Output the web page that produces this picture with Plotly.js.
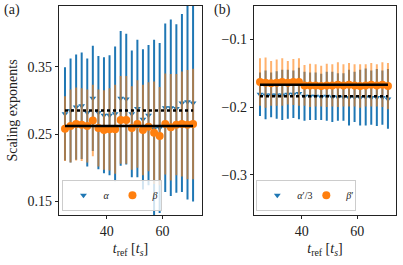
<!DOCTYPE html>
<html><head><meta charset="utf-8">
<script src="https://cdn.plot.ly/plotly-3.0.1.min.js"></script>
<style>html,body{margin:0;padding:0;background:#fff}#c{width:403px;height:265px}</style>
</head><body><div id="c"></div>
<script>
// t_ref values (shared by both panels)
const tRef = [25,27,29,31,33,35,37,39,41,43,45,47,49,51,53,55,57,59,61,63,65,67,69,71];

// Panel (a): alpha and beta
const alphaA = [0.280,0.285,0.290,0.292,0.282,0.303,0.282,0.278,0.278,0.280,0.303,0.302,0.280,0.288,0.272,0.278,0.258,0.259,0.289,0.289,0.288,0.296,0.298,0.296];
const alphaErrA = [0.069,0.077,0.078,0.079,0.080,0.078,0.084,0.086,0.089,0.100,0.100,0.097,0.094,0.102,0.104,0.104,0.132,0.126,0.125,0.131,0.125,0.132,0.145,0.146];
const betaA = [0.258,0.262,0.265,0.264,0.262,0.270,0.259,0.256,0.257,0.257,0.271,0.271,0.259,0.265,0.256,0.261,0.252,0.247,0.265,0.260,0.264,0.265,0.264,0.265];
const betaErrA = [0.048,0.054,0.054,0.054,0.054,0.053,0.057,0.059,0.061,0.066,0.065,0.065,0.062,0.065,0.067,0.066,0.076,0.073,0.075,0.079,0.075,0.078,0.081,0.082];
const meanAlphaA = 0.285;
const meanBetaA = 0.262;

// Panel (b): alpha'/3 and beta'
const alphaB = [-0.181,-0.182,-0.182,-0.182,-0.182,-0.181,-0.181,-0.180,-0.184,-0.184,-0.184,-0.185,-0.184,-0.185,-0.185,-0.185,-0.186,-0.185,-0.186,-0.185,-0.186,-0.186,-0.186,-0.188];
const alphaErrB = [0.032,0.036,0.033,0.035,0.037,0.036,0.035,0.038,0.036,0.035,0.035,0.034,0.036,0.037,0.035,0.035,0.041,0.037,0.041,0.042,0.040,0.042,0.040,0.044];
const betaB = [-0.163,-0.164,-0.165,-0.164,-0.163,-0.164,-0.163,-0.163,-0.168,-0.168,-0.168,-0.169,-0.168,-0.168,-0.167,-0.168,-0.167,-0.168,-0.169,-0.168,-0.167,-0.168,-0.167,-0.169];
const betaErrB = [0.035,0.037,0.033,0.034,0.035,0.032,0.034,0.035,0.030,0.032,0.031,0.030,0.032,0.031,0.033,0.031,0.032,0.031,0.032,0.031,0.032,0.031,0.033,0.034];
const meanAlphaB = -0.184;
const meanBetaB = -0.167;

const BLUE = '#1f77b4', ORANGE = '#ff7f0e';
const FONT = 'Liberation Serif, Times New Roman, serif';
const xEnds = [tRef[0], tRef[tRef.length-1]];

function series(y, err, name, color, errColor, symbol, size, xa, ya, leg) {
  return {x: tRef, y: y, type: 'scatter', mode: 'markers', name: name,
    xaxis: xa, yaxis: ya, legend: leg, cliponaxis: true,
    marker: {color: color, symbol: symbol, size: size, line: {width: 0}},
    error_y: {type: 'data', array: err, visible: true, color: errColor, thickness: 2, width: 0}};
}
function meanLine(m, dash, xa, ya) {
  return {x: xEnds, y: [m, m], type: 'scatter', mode: 'lines', showlegend: false,
    xaxis: xa, yaxis: ya, line: {color: '#000', width: 2.5, dash: dash}};
}

const data = [
  series(alphaA, alphaErrA, '<i>α</i>', BLUE, BLUE, 'triangle-down', 6, 'x', 'y', 'legend'),
  series(betaA, betaErrA, '<i>β</i>', ORANGE, 'rgba(255,127,14,0.6)', 'circle', 8, 'x', 'y', 'legend'),
  meanLine(meanAlphaA, 'dot', 'x', 'y'),
  meanLine(meanBetaA, 'solid', 'x', 'y'),
  series(alphaB, alphaErrB, '<i>α</i>′/3', BLUE, BLUE, 'triangle-down', 6, 'x2', 'y2', 'legend2'),
  series(betaB, betaErrB, '<i>β</i>′', ORANGE, 'rgba(255,127,14,0.6)', 'circle', 8, 'x2', 'y2', 'legend2'),
  meanLine(meanAlphaB, 'dot', 'x2', 'y2'),
  meanLine(meanBetaB, 'solid', 'x2', 'y2')
];

const axBase = {showgrid: false, zeroline: false, showline: true, mirror: true, linecolor: '#222', linewidth: 1,
  ticks: 'outside', ticklen: 3.5, tickwidth: 1, tickcolor: '#222', tickfont: {family: FONT, size: 14, color: '#222'}};
const xTitle = {text: '<i>t</i><sub>ref</sub> [<i>t</i><sub><i>s</i></sub>]', font: {family: FONT, size: 14, color: '#222'}, standoff: 4};
const legBase = {orientation: 'h', xanchor: 'left', yanchor: 'bottom', bgcolor: 'rgba(255,255,255,0.8)',
  bordercolor: '#cccccc', borderwidth: 1, font: {family: FONT, size: 10, color: '#222'},
  itemwidth: 30, entrywidth: 4, entrywidthmode: 'pixels', tracegroupgap: 0};

const layout = {
  width: 403, height: 265, margin: {l: 0, r: 0, t: 0, b: 0}, paper_bgcolor: '#fff', plot_bgcolor: '#fff',
  showlegend: true,
  xaxis: Object.assign({}, axBase, {domain: [0.1471, 0.5005], range: [22.95, 74.1], tickvals: [40, 60], title: xTitle}),
  yaxis: Object.assign({}, axBase, {domain: [0.1887, 0.9774], range: [0.130, 0.440], tickvals: [0.15, 0.25, 0.35], ticktext: ['0.15','0.25','0.35'],
    title: {text: 'Scaling exponents', font: {family: FONT, size: 14, color: '#222'}, standoff: 6}}),
  xaxis2: Object.assign({}, axBase, {domain: [0.631, 0.982], range: [22.95, 73.8], tickvals: [40, 60], title: xTitle, anchor: 'y2'}),
  yaxis2: Object.assign({}, axBase, {domain: [0.1887, 0.9774], range: [-0.359, -0.051], tickvals: [-0.1, -0.2, -0.3], ticktext: ['−0.1','−0.2','−0.3'], anchor: 'x2'}),
  legend: Object.assign({}, legBase, {x: 0.155, y: 0.205}),
  legend2: Object.assign({}, legBase, {x: 0.636, y: 0.205}),
  annotations: [
    {text: '(a)', xref: 'paper', yref: 'paper', x: 0.005, y: 1.0, xanchor: 'left', yanchor: 'top', showarrow: false, font: {family: FONT, size: 14, color: '#222'}},
    {text: '(b)', xref: 'paper', yref: 'paper', x: 0.526, y: 1.0, xanchor: 'left', yanchor: 'top', showarrow: false, font: {family: FONT, size: 14, color: '#222'}}
  ]
};
Plotly.newPlot('c', data, layout, {staticPlot: true, displayModeBar: false});
</script></body></html>
